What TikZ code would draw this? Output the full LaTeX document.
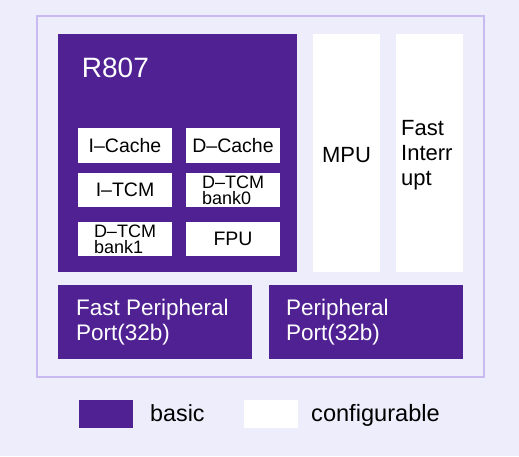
\documentclass[tikz,border=0pt]{standalone}
\usepackage{fontspec}
\setmainfont{Liberation Sans}
\definecolor{bgcol}{HTML}{EEEDFC}
\definecolor{framecol}{HTML}{C9BAF2}
\definecolor{corecol}{HTML}{4F2192}
\begin{document}
\begin{tikzpicture}[x=1pt,y=-1pt,
  box/.style={draw=none,inner sep=0pt,outer sep=0pt,anchor=north west},
  basicbox/.style={box,fill=corecol},
  cfgbox/.style={box,fill=white},
  subbox/.style={cfgbox,minimum width=94pt,minimum height=35pt,text=black,align=left,font=\fontsize{19.5}{16}\selectfont},
  twoline/.style={font=\fontsize{18}{16.2}\selectfont},
  whitetxt/.style={text=white,inner sep=0pt,anchor=base west},
  blacktxt/.style={text=black,inner sep=0pt,anchor=base west},
  bigfont/.style={font=\fontsize{22.5}{24.3}\selectfont},
]
\useasboundingbox (0,0) rectangle (519,456);
\fill[bgcol] (0,0) rectangle (519,456);
\node[box,draw=framecol,line width=1.2pt,minimum width=447pt,minimum height=361pt] (frame) at (37,16) {};
% core
\node[basicbox,minimum width=239pt,minimum height=238pt] (core) at (58,34) {};
\node[whitetxt,font=\fontsize{28}{30}\selectfont] (corelbl) at (81.7,77) {R807};
\node[subbox] (icache) at (78,128) {I–Cache};
\node[subbox] (dcache) at (186,128) {D–Cache};
\node[subbox,minimum height=34pt] (itcm) at (78,173) {I–TCM};
\node[subbox,twoline,minimum height=34pt] (dtcm0) at (186,173) {D–TCM\\bank0};
\node[subbox,twoline,minimum height=34pt] (dtcm1) at (78,222) {D–TCM\\bank1};
\node[subbox,minimum height=34pt] (fpu) at (186,222) {FPU};
% configurable columns
\node[cfgbox,minimum width=67pt,minimum height=238pt] (mpu) at (313,34) {};
\node[blacktxt,anchor=base,font=\fontsize{22}{25}\selectfont] (mpulbl) at (346.5,162) {MPU};
\node[cfgbox,minimum width=67pt,minimum height=238pt] (fint) at (396,34) {};
\node[blacktxt,align=left,font=\fontsize{22}{24.8}\selectfont] (fintlbl) at (401,185.3) {Fast\\Interr\\upt};
% ports
\node[basicbox,minimum width=194pt,minimum height=74pt] (fpp) at (58,285) {};
\node[whitetxt,bigfont,align=left] (fpplbl) at (76,340) {Fast Peripheral\\Port(32b)};
\node[basicbox,minimum width=194pt,minimum height=74pt] (pp) at (269,285) {};
\node[whitetxt,bigfont,align=left] (pplbl) at (286,340) {Peripheral\\Port(32b)};
% legend
\node[basicbox,minimum width=54pt,minimum height=28pt] (legb) at (79,400) {};
\node[blacktxt,font=\fontsize{23.3}{26}\selectfont] (legbt) at (150,421.7) {basic};
\node[cfgbox,minimum width=54pt,minimum height=28pt] (legc) at (244,400) {};
\node[blacktxt,font=\fontsize{23.6}{26}\selectfont] (legct) at (311,421.7) {configurable};
\end{tikzpicture}
\end{document}
